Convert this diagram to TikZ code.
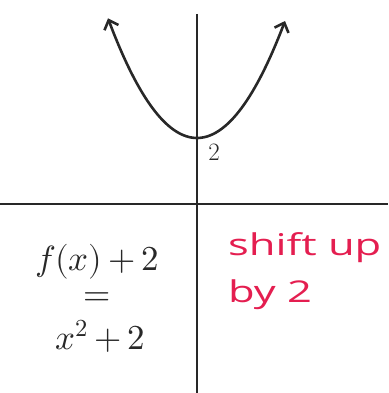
\documentclass[tikz,border=0pt]{standalone}
\usepackage{fontspec}
\usepackage{unicode-math}
\usetikzlibrary{arrows.meta}
\newfontfamily\handfont[FakeStretch=1.45]{Open Sans}
\newcommand{\snugplus}{\mkern3mu{+}\mkern3mu}
\definecolor{inkgray}{RGB}{40,40,40}
\definecolor{shiftred}{RGB}{228,30,80}
\begin{document}
\begin{tikzpicture}[x=1pt, y=-1pt,
  axis/.style={line width=2.2pt, draw=inkgray},
  curve/.style={line width=2.6pt, draw=inkgray, {Straight Barb[length=8pt,width=15pt]}-{Straight Barb[length=8pt,width=15pt]}},
  eqn/.style={font=\fontsize{35}{40}\selectfont, text=inkgray},
  note/.style={font=\handfont\fontsize{30}{47}\selectfont, text=shiftred, align=left, anchor=base west, inner sep=0pt}
]
\useasboundingbox (0,0) rectangle (388,393);

% axes
\draw[axis] (0,204) -- (388,204);
\draw[axis] (197,14) -- (197,393);

% the shifted parabola
\draw[curve] plot[domain=-89:88, samples=60, smooth] ({197+\x},{138-0.0151*\x*\x});
\node[font=\fontsize{25}{27}\selectfont, text=inkgray] (vertex) at (214,152) {2};

% left half: the rule
\node[eqn] (rule) at (97,262) {$f(x)\snugplus 2$};
\node[eqn] (equals) at (97,299) {$=$};
\node[eqn] (result) at (100,336) {$x^2\snugplus 2$};

% right half: what it does
\node[note] (shift) at (228,302) {shift up\\by 2};
\end{tikzpicture}
\end{document}
